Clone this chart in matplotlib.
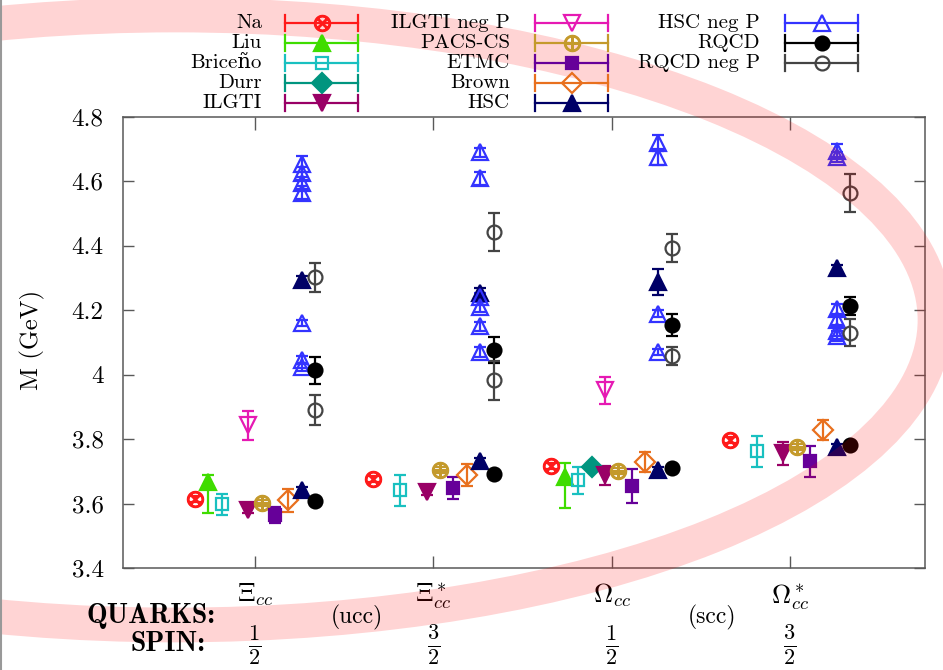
import matplotlib
matplotlib.use("Agg")
import matplotlib.pyplot as plt
from matplotlib.patches import Ellipse

plt.rcParams['font.family'] = ['cmr10', 'DejaVu Serif']
plt.rcParams['mathtext.fontset'] = 'cm'
plt.rcParams['axes.unicode_minus'] = False
plt.rcParams['axes.formatter.use_mathtext'] = True

baryons = [r'$\Xi_{cc}$', r'$\Xi^*_{cc}$', r'$\Omega_{cc}$', r'$\Omega^*_{cc}$']
spins = [r'$\frac{1}{2}$', r'$\frac{3}{2}$', r'$\frac{1}{2}$', r'$\frac{3}{2}$']
quarks = ['(ucc)', '(scc)']
yticks = [3.4, 3.6, 3.8, 4.0, 4.2, 4.4, 4.6, 4.8]
ytick_labels = ['3.4', '3.6', '3.8', '4', '4.2', '4.4', '4.6', '4.8']

# masses in GeV; *_b is the baryon index (0..3), *_e the error
na_b = [0, 1, 2, 3]
na_m = [3.614, 3.676, 3.716, 3.797]
na_e = [0.010, 0.010, 0.010, 0.010]

liu_b = [0, 2]
liu_m = [3.667, 3.682]
liu_lo = [0.097, 0.096]
liu_hi = [0.021, 0.043]

briceno_b = [0, 1, 2, 3]
briceno_m = [3.598, 3.642, 3.673, 3.763]
briceno_e = [0.033, 0.048, 0.042, 0.048]

durr_b = [2]
durr_m = [3.713]
durr_e = [0.012]

ilgti_b = [0, 1, 2, 3]
ilgti_m = [3.580, 3.636, 3.688, 3.756]
ilgti_e = [0.010, 0.010, 0.030, 0.035]

ilgti_neg_b = [0, 2]
ilgti_neg_m = [3.843, 3.952]
ilgti_neg_e = [0.045, 0.042]

pacs_b = [0, 1, 2, 3]
pacs_m = [3.601, 3.704, 3.701, 3.775]
pacs_e = [0.010, 0.008, 0.010, 0.010]

etmc_b = [0, 1, 2, 3]
etmc_m = [3.564, 3.648, 3.654, 3.732]
etmc_e = [0.025, 0.033, 0.053, 0.048]

brown_b = [0, 1, 2, 3]
brown_m = [3.610, 3.688, 3.729, 3.828]
brown_e = [0.035, 0.035, 0.030, 0.030]

hsc_b = [0, 1, 2, 3, 0, 1, 2, 3]
hsc_m = [3.642, 3.731, 3.704, 3.775, 4.294, 4.253, 4.288, 4.331]
hsc_e = [0.010, 0.010, 0.010, 0.010, 0.012, 0.015, 0.040, 0.010]

hsc_neg_b = [0, 0, 0, 0, 0, 0, 0,
             1, 1, 1, 1, 1, 1,
             2, 2, 2, 2,
             3, 3, 3, 3, 3, 3]
hsc_neg_m = [4.655, 4.625, 4.595, 4.565, 4.160, 4.045, 4.025,
             4.690, 4.610, 4.240, 4.210, 4.150, 4.070,
             4.720, 4.675, 4.190, 4.070,
             4.695, 4.675, 4.205, 4.170, 4.135, 4.120]
hsc_neg_e = [0.025, 0.020, 0.020, 0.020, 0.010, 0.012, 0.012,
             0.015, 0.020, 0.015, 0.015, 0.015, 0.015,
             0.025, 0.025, 0.010, 0.010,
             0.020, 0.015, 0.015, 0.015, 0.015, 0.015]

rqcd_b = [0, 1, 2, 3, 0, 1, 2, 3]
rqcd_m = [3.607, 3.691, 3.710, 3.781, 4.014, 4.077, 4.154, 4.213]
rqcd_e = [0.008, 0.008, 0.008, 0.008, 0.042, 0.040, 0.034, 0.028]

rqcd_neg_b = [0, 1, 2, 3, 0, 1, 2, 3]
rqcd_neg_m = [3.890, 3.983, 4.058, 4.130, 4.303, 4.443, 4.393, 4.564]
rqcd_neg_e = [0.047, 0.060, 0.028, 0.042, 0.045, 0.058, 0.043, 0.058]

# label, baryon idx, mass, error, marker, colour, filled, slot, marker size
series = [
    ("Na", na_b, na_m, na_e, r'$\otimes$', '#ff1a1a', True, -4.5, 11),
    ("Liu", liu_b, liu_m, [liu_lo, liu_hi], '^', '#3fdc00', True, -3.5, 11),
    ("Briceño", briceno_b, briceno_m, briceno_e, 's', '#19c0c0', False, -2.5, 9),
    ("Durr", durr_b, durr_m, durr_e, 'D', '#00957f', True, -1.5, 10),
    ("ILGTI", ilgti_b, ilgti_m, ilgti_e, 'v', '#990066', True, -0.5, 11),
    ("ILGTI neg P", ilgti_neg_b, ilgti_neg_m, ilgti_neg_e, 'v', '#e619b3', False, -0.5, 11),
    ("PACS-CS", pacs_b, pacs_m, pacs_e, r'$\oplus$', '#c49a2c', True, 0.5, 11),
    ("ETMC", etmc_b, etmc_m, etmc_e, 's', '#660099', True, 1.5, 9),
    ("Brown", brown_b, brown_m, brown_e, 'D', '#e8701e', False, 2.5, 10),
    ("HSC", hsc_b, hsc_m, hsc_e, '^', '#000066', True, 3.5, 11),
    ("HSC neg P", hsc_neg_b, hsc_neg_m, hsc_neg_e, '^', '#3333ff', False, 3.5, 11),
    ("RQCD", rqcd_b, rqcd_m, rqcd_e, 'o', '#000000', True, 4.5, 10),
    ("RQCD neg P", rqcd_neg_b, rqcd_neg_m, rqcd_neg_e, 'o', '#444444', False, 4.5, 10),
]
step = 0.075

W, H = 943, 670
fig = plt.figure(figsize=(W / 100, H / 100), dpi=100)
ax = fig.add_axes([123 / W, 1 - 568 / H, (925 - 123) / W, (568 - 117) / H])

for label, b, m, e, mk, col, filled, slot, ms in series:
    x = [1 + i + slot * step for i in b]
    ax.errorbar(x, m, yerr=e, marker=mk, color=col, ms=ms,
                mfc=col if filled else 'none', mec=col, mew=1.6,
                elinewidth=1.6, capsize=4.5, capthick=1.6, linestyle='none')

ax.set_xlim(0.26, 4.757)
ax.set_ylim(3.4, 4.8)
ax.set_xticks([1, 2, 3, 4])
ax.set_xticklabels(baryons, fontsize=19)
ax.set_yticks(yticks)
ax.set_yticklabels(ytick_labels, fontsize=18)
ax.tick_params(axis='x', direction='in', length=9, width=1, color='0.35',
               top=True, pad=10)
ax.tick_params(axis='y', direction='in', length=8, width=1, color='0.35',
               right=True, pad=14)
for sp in ax.spines.values():
    sp.set_color('0.35')
    sp.set_linewidth(1.1)
ax.set_ylabel('M (GeV)', fontsize=18)
ax.yaxis.set_label_coords(-0.097, 0.505)

# overlay in pixel units: legend, bottom notes and the ring
ov = fig.add_axes([0, 0, 1, 1])
ov.set_xlim(0, W)
ov.set_ylim(H, 0)
ov.axis('off')
ov.set_zorder(10)
ov.patch.set_visible(False)

cols_text = [262, 510, 760]
cols_line = [285, 535, 785]
for k, (label, b, m, e, mk, col, filled, slot, ms) in enumerate(series):
    c, r = divmod(k, 5)
    y = 23 + 20 * r
    ov.text(cols_text[c], y, label, ha='right', va='center', fontsize=15)
    x0 = cols_line[c]
    x1 = x0 + 73
    ov.plot([x0, x1], [y, y], color=col, lw=1.6)
    ov.plot([x0, x0], [y - 8, y + 8], color=col, lw=1.6)
    ov.plot([x1, x1], [y - 8, y + 8], color=col, lw=1.6)
    ov.plot([(x0 + x1) / 2], [y], marker=mk, color=col, ms=ms,
            mfc=col if filled else 'none', mec=col, mew=1.6)

ov.text(215, 616, 'QUARKS:', family='cmb10', fontsize=20, ha='right', va='center')
ov.text(130, 644, 'SPIN:', family='cmb10', fontsize=20, ha='left', va='center')
ov.text(357, 617, quarks[0], fontsize=17, ha='center', va='center')
ov.text(712, 617, quarks[1], fontsize=17, ha='center', va='center')
for i, s in enumerate(spins):
    px = 255 + i * 178.3
    ov.text(px, 645, s, fontsize=23, ha='center', va='center')

ov.plot([1, 1], [0, H], color='0.6', lw=1.5)
ring = Ellipse((175, 320), 1520, 610, fill=False, edgecolor='red',
               alpha=0.17, lw=25)
ov.add_patch(ring)

fig.savefig('out.png', dpi=100)
